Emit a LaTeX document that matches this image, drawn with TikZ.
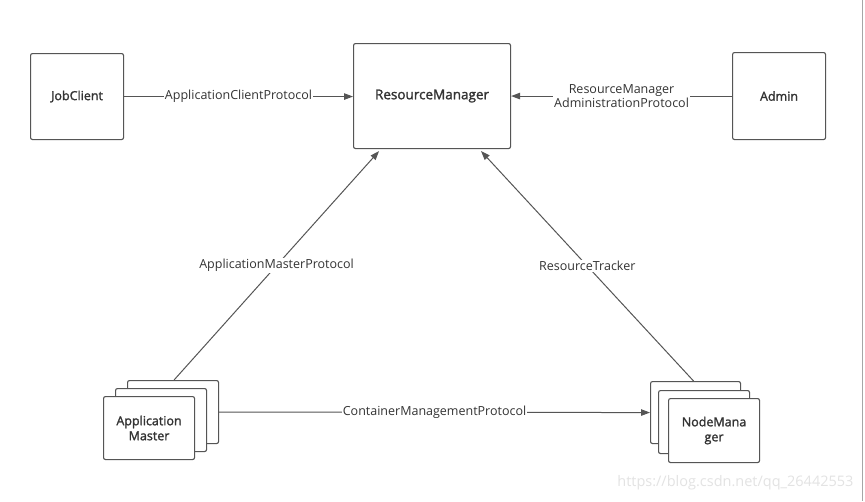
\documentclass[tikz,border=0pt]{standalone}
\usepackage{fontspec}
\setmainfont{Open Sans}
\newfontfamily\semib[FakeBold=1.6]{Open Sans}
\usetikzlibrary{arrows.meta,calc}
\definecolor{ln}{HTML}{555555}
\definecolor{tx}{HTML}{333333}
\begin{document}
\begin{tikzpicture}[x=1pt,y=-1pt,
  box/.style={draw=ln,line width=1.1pt,rounded corners=2pt,fill=white,anchor=north west,inner sep=0pt,
    font=\fontsize{12.5}{15}\semib,text=tx,align=center},
  conn/.style={draw=ln,line width=1pt},
  arr/.style={conn,-{Triangle[length=9pt,width=6.5pt]}},
  lbl/.style={fill=white,inner sep=1pt,font=\fontsize{12.5}{14}\selectfont,text=tx,align=center}]
\useasboundingbox (0,0) rectangle (865,501);
\fill[white] (0,0) rectangle (865,501);
\draw[gray!70,line width=1pt] (862,0) -- (862,501);
% top row
\node[box,minimum width=93pt,minimum height=86pt] (jc) at (30,53) {JobClient};
\node[box,minimum width=157pt,minimum height=105pt,font=\fontsize{13.5}{16}\semib] (rm) at (353,43) {ResourceManager};
\node[box,minimum width=93pt,minimum height=87pt] (ad) at (732,52) {Admin};
% ApplicationMaster stack
\node[box,minimum width=91pt,minimum height=63pt] (amb) at (127,380) {};
\node[box,minimum width=91pt,minimum height=63pt] (amm) at (115,388) {};
\node[box,minimum width=91pt,minimum height=63pt] (amf) at (103,396) {Application\\Master};
% NodeManager stack
\node[box,minimum width=90pt,minimum height=62pt] (nmb) at (650,381) {};
\node[box,minimum width=91pt,minimum height=63pt] (nmm) at (658,390) {};
\node[box,minimum width=91pt,minimum height=64pt] (nmf) at (668,398) {NodeMana\\ger};
% connectors
\draw[arr] (jc.east) -- node[lbl] {ApplicationClientProtocol} (rm.west |- jc.east);
\draw[arr] (ad.west) -- node[lbl] {ResourceManager\\AdministrationProtocol} (rm.east |- ad.west);
\draw[arr] ([xshift=1pt]amb.north) -- node[lbl] {ApplicationMasterProtocol} ([xshift=-53pt,yshift=-2pt]rm.south);
\draw[arr] ([xshift=-2pt]nmb.north) -- node[lbl] {ResourceTracker} ([xshift=49pt,yshift=-2pt]rm.south);
\draw[arr] (amb.east) -- node[lbl] {ContainerManagementProtocol} (nmb.west);
% watermark
\node[font=\fontsize{14.5}{16}\selectfont,text=gray!22,anchor=east] (wm) at (857,483) {https://blog.csdn.net/qq\_26442553};
\end{tikzpicture}
\end{document}
